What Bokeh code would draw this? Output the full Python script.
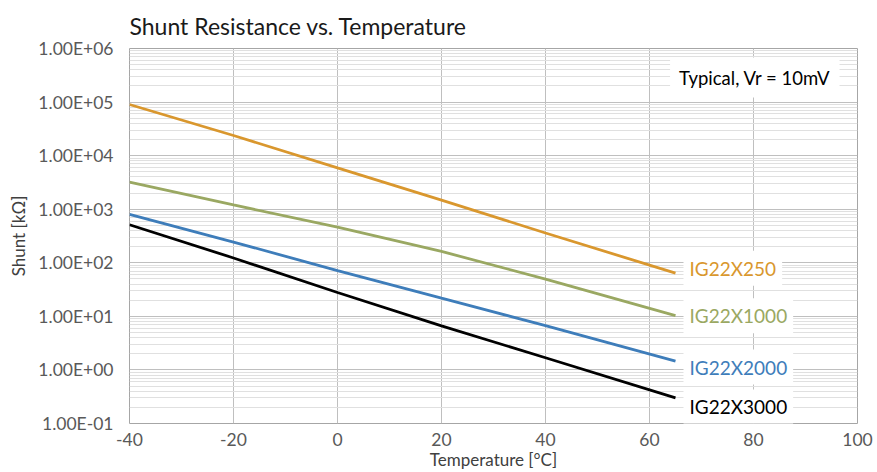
from bokeh.plotting import figure
from bokeh.models import Range1d, FixedTicker, CustomJSTickFormatter, Label
from bokeh.embed import file_html
from bokeh.resources import INLINE

# ---- data ----
temperature = [-40, -20, 0, 20, 40, 65]
ig22x250 = [9.0e4, 2.38e4, 5.9e3, 1.48e3, 360, 64]
ig22x1000 = [3.19e3, 1.2e3, 464, 163, 49.6, 10.3]
ig22x2000 = [800, 244, 71.6, 21.8, 6.7, 1.46]
ig22x3000 = [513, 123, 27.9, 6.65, 1.69, 0.30]
series_names = ["IG22X250", "IG22X1000", "IG22X2000", "IG22X3000"]
series_colors = ["#D9972E", "#9AA862", "#3E7DBA", "#000000"]
label_dy = [5, 0, -6, -9]

x_ticks = [-40, -20, 0, 20, 40, 60, 80, 100]
y_ticks = [1e-1, 1e0, 1e1, 1e2, 1e3, 1e4, 1e5, 1e6]
y_minor = [m * d for d in y_ticks[:-1] for m in range(2, 10)]

FONT = "Lato"

p = figure(width=877, height=472, y_axis_type="log",
           x_range=Range1d(-40, 100), y_range=Range1d(0.1, 1e6),
           output_backend="svg", toolbar_location=None,
           min_border_left=129, min_border_right=20,
           min_border_top=48, min_border_bottom=48)

p.title.text = "Shunt Resistance vs. Temperature"
p.title.text_font = FONT
p.title.text_font_size = "23px"
p.title.text_font_style = "normal"
p.title.text_color = "#1A1A1A"
p.title.standoff = 18

p.outline_line_color = "#A6A6A6"
p.background_fill_color = "white"

p.xaxis.ticker = FixedTicker(ticks=x_ticks)
p.xaxis.formatter = CustomJSTickFormatter(code="return String(tick);")
p.yaxis.ticker = FixedTicker(ticks=y_ticks, minor_ticks=y_minor)
p.yaxis.formatter = CustomJSTickFormatter(code="""
const s = tick.toExponential(2).toUpperCase();
const parts = s.split('E');
let e = parts[1];
const sign = e[0];
let d = e.slice(1);
if (d.length < 2) d = '0' + d;
return parts[0] + 'E' + sign + d;
""")

for ax in (p.xaxis[0], p.yaxis[0]):
    ax.axis_line_color = None
    ax.major_tick_line_color = None
    ax.minor_tick_line_color = None
    ax.major_label_text_font = FONT
    ax.major_label_text_font_size = "17.5px"
    ax.major_label_text_color = "#595959"
    ax.axis_label_text_font = FONT
    ax.axis_label_text_font_size = "17px"
    ax.axis_label_text_font_style = "normal"
    ax.axis_label_text_color = "#404040"

p.xaxis.axis_label = "Temperature [°C]"
p.yaxis.axis_label = "Shunt [kΩ]"
p.xaxis.major_label_standoff = 3
p.yaxis.major_label_standoff = 10
p.xaxis.axis_label_standoff = 0
p.yaxis.axis_label_standoff = 6

p.xgrid.grid_line_color = "#BFBFBF"
p.ygrid.grid_line_color = "#BFBFBF"
p.ygrid.minor_grid_line_color = "#E0E0E0"

all_series = [ig22x250, ig22x1000, ig22x2000, ig22x3000]
for vals, name, col, dy in zip(all_series, series_names, series_colors, label_dy):
    p.line(temperature, vals, line_color=col, line_width=2.8)
    p.add_layout(Label(x=temperature[-1], y=vals[-1], text=name,
                       x_offset=8, y_offset=dy,
                       text_baseline="middle", text_align="left",
                       text_font=FONT, text_font_size="19px", text_color=col,
                       background_fill_color="white", padding=6))

p.add_layout(Label(x=100, y=1e6, text="Typical, Vr = 10mV",
                   x_offset=-18, y_offset=-29,
                   text_baseline="middle", text_align="right",
                   text_font=FONT, text_font_size="18.5px", text_color="#000000",
                   background_fill_color="white", padding=9))

open("out.html", "w").write(file_html(p, INLINE))
